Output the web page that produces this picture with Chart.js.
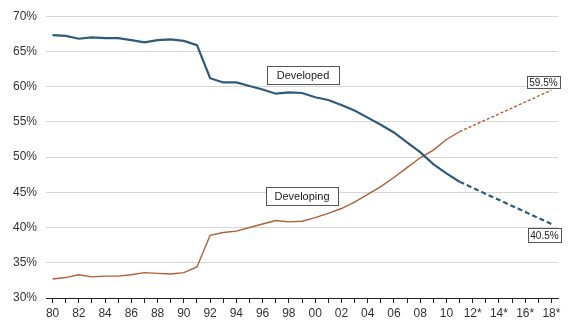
<!DOCTYPE html>
<html>
<head>
<meta charset="utf-8">
<script src="https://cdn.jsdelivr.net/npm/chart.js@4.4.1/dist/chart.umd.min.js"></script>
<style>
    html, body { margin: 0; padding: 0; background: #fff; }
    #wrap { width: 570px; height: 329px; }
</style>
</head>
<body>
<div id="wrap"><canvas id="share-chart"></canvas></div>
<script>
// years 1980 - 2018, projections marked with *
const years = ['80', '81', '82', '83', '84', '85', '86', '87', '88', '89',
    '90', '91', '92', '93', '94', '95', '96', '97', '98', '99',
    '00', '01', '02', '03', '04', '05', '06', '07', '08', '09',
    '10', '11', '12*', '13*', '14*', '15*', '16*', '17*', '18*'];

// share of world output, 1980 - 2011 (actual)
const developed = [67.3, 67.2, 66.8, 67.0, 66.9, 66.9, 66.6, 66.3, 66.6, 66.7,
    66.5, 65.9, 61.2, 60.6, 60.6, 60.1, 59.6, 59.0, 59.2, 59.1,
    58.5, 58.1, 57.4, 56.6, 55.6, 54.6, 53.5, 52.1, 50.7, 49.0,
    47.7, 46.5];
const developing = [32.7, 32.9, 33.3, 33.0, 33.1, 33.1, 33.3, 33.6, 33.5, 33.4,
    33.6, 34.4, 38.9, 39.3, 39.5, 40.0, 40.5, 41.0, 40.8, 40.9,
    41.4, 42.0, 42.7, 43.6, 44.7, 45.8, 47.1, 48.5, 49.9, 51.0,
    52.5, 53.6];

// projection end points: 2011 -> 2018
const developedProj = [46.5, 40.5];
const developingProj = [53.6, 59.5];
const endLabels = ['40.5%', '59.5%'];

const blue = '#2e5a7c';
const brown = '#ad6038';

function projection(pair) {
    const arr = years.map(() => null);
    arr[developed.length - 1] = pair[0];
    arr[years.length - 1] = pair[1];
    return arr;
}

function drawBox(ctx, text, cx, cy, w, h, font) {
    ctx.save();
    ctx.fillStyle = '#fff';
    ctx.strokeStyle = '#555';
    ctx.lineWidth = 1;
    const x = Math.round(cx - w / 2) + 0.5;
    const y = Math.round(cy - h / 2) + 0.5;
    ctx.fillRect(x, y, w, h);
    ctx.strokeRect(x, y, w, h);
    ctx.fillStyle = '#222';
    ctx.font = font;
    ctx.textAlign = 'center';
    ctx.textBaseline = 'middle';
    ctx.fillText(text, cx, cy + 1);
    ctx.restore();
}

// text boxes for series names and projected end values
const boxPlugin = {
    id: 'boxes',
    afterDatasetsDraw(chart) {
        const ctx = chart.ctx;
        const x = chart.scales.x;
        const y = chart.scales.y;
        drawBox(ctx, 'Developed', x.getPixelForValue(19) + 1, y.getPixelForValue(61.6), 72, 18, '11px "Liberation Sans", Arial');
        drawBox(ctx, 'Developing', x.getPixelForValue(19), y.getPixelForValue(44.5), 72, 18, '11px "Liberation Sans", Arial');

        const last = years.length - 1;
        const px = x.getPixelForValue(last);
        drawBox(ctx, endLabels[1], px - 8, y.getPixelForValue(developingProj[1]) - 8, 33, 12, '10px "Liberation Sans", Arial');
        drawBox(ctx, endLabels[0], px - 7, y.getPixelForValue(developedProj[1]) + 11, 33, 14, '10px "Liberation Sans", Arial');
    }
};

const ctx = document.getElementById('share-chart').getContext('2d');
new Chart(ctx, {
    type: 'line',
    data: {
        labels: years,
        datasets: [{
            label: 'Developed',
            data: developed,
            borderColor: blue,
            borderWidth: 2.2,
            pointRadius: 0,
            tension: 0,
        }, {
            label: 'Developing',
            data: developing,
            borderColor: brown,
            borderWidth: 1.4,
            pointRadius: 0,
            tension: 0,
        }, {
            label: 'Developed (projection)',
            data: projection(developedProj),
            borderColor: blue,
            borderWidth: 2.2,
            borderDash: [5, 3],
            pointRadius: 0,
            spanGaps: true,
        }, {
            label: 'Developing (projection)',
            data: projection(developingProj),
            borderColor: brown,
            borderWidth: 1.4,
            borderDash: [3, 2],
            pointRadius: 0,
            spanGaps: true,
        }],
    },
    options: {
        responsive: true,
        maintainAspectRatio: false,
        animation: false,
        layout: { padding: { top: 16, right: 12, bottom: 0, left: 0 } },
        plugins: {
            legend: { display: false },
            tooltip: { enabled: false },
        },
        scales: {
            x: {
                offset: true,
                afterFit: (scale) => { scale.height = 31; },
                border: { color: '#222', width: 1 },
                grid: { drawOnChartArea: false, color: '#222', tickLength: 5 },
                ticks: {
                    autoSkip: false,
                    maxRotation: 0,
                    padding: 3,
                    color: '#333',
                    font: { family: '"Liberation Sans", Arial', size: 12 },
                    callback: (value, index) => (index % 2 === 0 ? years[index] : ''),
                },
            },
            y: {
                min: 30,
                max: 70,
                afterFit: (scale) => { scale.width = 46; },
                border: { display: false },
                grid: { color: '#d6d6d6', drawTicks: false },
                ticks: {
                    stepSize: 5,
                    padding: 9,
                    color: '#333',
                    font: { family: '"Liberation Sans", Arial', size: 12 },
                    callback: (v) => v + '%',
                },
            },
        },
    },
    plugins: [boxPlugin],
});
</script>
</body>
</html>
